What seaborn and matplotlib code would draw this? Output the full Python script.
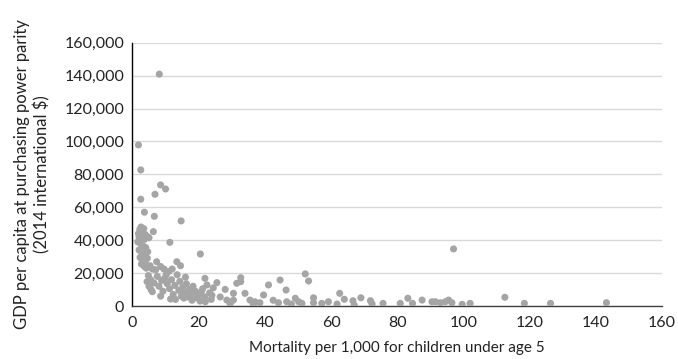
import matplotlib
matplotlib.use("Agg")
import matplotlib.pyplot as plt
import seaborn as sns
import pandas as pd
from matplotlib.ticker import FuncFormatter, MultipleLocator

# Under-5 mortality (per 1,000) vs GDP per capita, PPP (2014 international $)
mortality = [
    8.1, 1.8, 2.5, 6.8, 8.5, 10.0, 2.5, 3.6, 6.6, 14.7, 11.3, 20.5,
    1.8, 2.2, 2.6, 3.0, 3.4, 3.8, 2.0, 2.8, 3.6, 4.3, 5.0, 6.3, 1.6, 2.4,
    3.2, 4.0, 2.0, 2.8, 3.5, 4.6,
    2.3, 3.0, 3.8, 4.5, 2.7, 3.6, 4.2, 5.3, 6.0, 7.3, 7.0, 8.5, 9.5, 11.0,
    12.0, 13.4, 14.5, 10.2, 16.0,
    4.4, 5.0, 5.6, 6.0, 4.8, 5.5, 6.5, 7.5, 8.0, 8.8, 9.2, 9.8, 10.5, 11.2,
    11.8, 12.3, 12.8, 13.5, 14.0, 14.3, 14.8, 15.2, 15.8, 16.3, 16.8, 17.2,
    17.8, 18.3, 19.0, 19.5, 11.5, 8.5, 13.0, 15.5, 18.0, 20.0,
    20.4, 21.2, 21.8, 22.5, 23.3, 23.8, 24.4, 22.0, 20.8, 24.0, 25.5, 21.9,
    28.0, 28.5, 30.5, 30.5, 31.5, 32.7, 32.7, 34.0, 35.5, 37.0, 39.6, 41.1,
    44.6, 46.4, 44.1, 46.6, 49.2, 50.2, 52.2, 53.2,
    26.5, 29.5, 36.5, 38.5, 42.5, 48.0,
    51.2, 54.7, 54.7, 57.2, 59.2, 61.8, 62.6, 64.0, 66.6, 67.0, 69.0, 71.9,
    72.4, 75.7, 80.9, 83.2, 84.6,
    87.5, 90.5, 91.5, 93.0, 94.5, 95.5, 96.5, 97.0, 99.6, 102.0, 112.5,
    118.4, 126.3, 143.2,
]
gdp_per_capita = [
    140900, 97900, 82700, 67900, 73600, 71100, 64900, 57000, 54500, 51700, 38700, 31600,
    44000, 46500, 48000, 45500, 47000, 43500, 42000, 41000, 40500, 42500, 41500, 45200, 39000, 38000,
    36500, 35500, 34000, 32500, 31500, 33000,
    29500, 28000, 27000, 29000, 25500, 24000, 23000, 24500, 22500, 26900, 22000, 24000, 22500, 21000,
    22500, 26900, 24500, 19000, 17500,
    14800, 12000, 10000, 8700, 18500, 16000, 14000, 18000, 12000, 15500, 9000, 17000, 13500, 10500,
    16000, 7000, 12500, 19000, 9500, 15000, 6000, 11500, 8000, 13500, 5500, 10000,
    7200, 12000, 9000, 5000, 4200, 6000, 4000, 4800, 3500, 7000,
    3000, 10500, 5500, 12800, 8000, 4000, 11000, 2600, 8500, 6500, 14200, 16800,
    10100, 3600, 7700, 3600, 13800, 17200, 14800, 7700, 3600, 2600, 6700, 12800,
    15800, 9700, 2000, 2600, 4700, 2600, 19500, 15200,
    5500, 1500, 1000, 2000, 3500, 1200,
    1600, 5000, 2000, 1600, 2600, 1200, 7700, 4100, 3200, 600, 5000, 3200,
    1200, 1600, 1600, 4700, 1600,
    3600, 2600, 2600, 2000, 2600, 3600, 2000, 34700, 1000, 1600, 5300,
    1600, 1600, 2000,
]

x_ticks = [0, 20, 40, 60, 80, 100, 120, 140, 160]
x_label = "Mortality per 1,000 for children under age 5"
y_label = "GDP per capita at purchasing power parity\n(2014 international $)"

df = pd.DataFrame({"mortality": mortality, "gdp": gdp_per_capita})

sns.set_style("white")
plt.rcParams["font.family"] = ["Lato", "DejaVu Sans"]

text_color = "#222222"
fig = plt.figure(figsize=(6.78, 3.59), dpi=100)
ax = fig.add_axes([0.1954, 0.1476, 0.7811, 0.7334])

sns.scatterplot(data=df, x="mortality", y="gdp", ax=ax, color="#A5A5A5",
                s=26, edgecolor="none", linewidth=0, zorder=3)

ax.set_xlim(0, 160)
ax.set_ylim(0, 160000)
ax.set_xticks(x_ticks)
ax.yaxis.set_major_locator(MultipleLocator(20000))
ax.yaxis.set_major_formatter(FuncFormatter(lambda v, p: f"{int(v):,}"))

ax.grid(axis="y", color="#D9D9D9", linewidth=1.0, zorder=0)
ax.grid(axis="x", visible=False)
for side in ("top", "right"):
    ax.spines[side].set_visible(False)
ax.spines["left"].set_color("#000000")
ax.spines["left"].set_linewidth(1.0)
ax.spines["bottom"].set_color("#404040")
ax.spines["bottom"].set_linewidth(1.0)

ax.tick_params(axis="y", length=0, labelsize=11.5, colors=text_color, pad=6)
ax.tick_params(axis="x", length=0, labelsize=11.5, colors=text_color, pad=7)
ax.set_xlabel(x_label, fontsize=11, color=text_color, labelpad=8)
ax.set_ylabel(y_label, fontsize=12, color=text_color, labelpad=10, linespacing=1.25)

fig.savefig("out.png", dpi=100)
